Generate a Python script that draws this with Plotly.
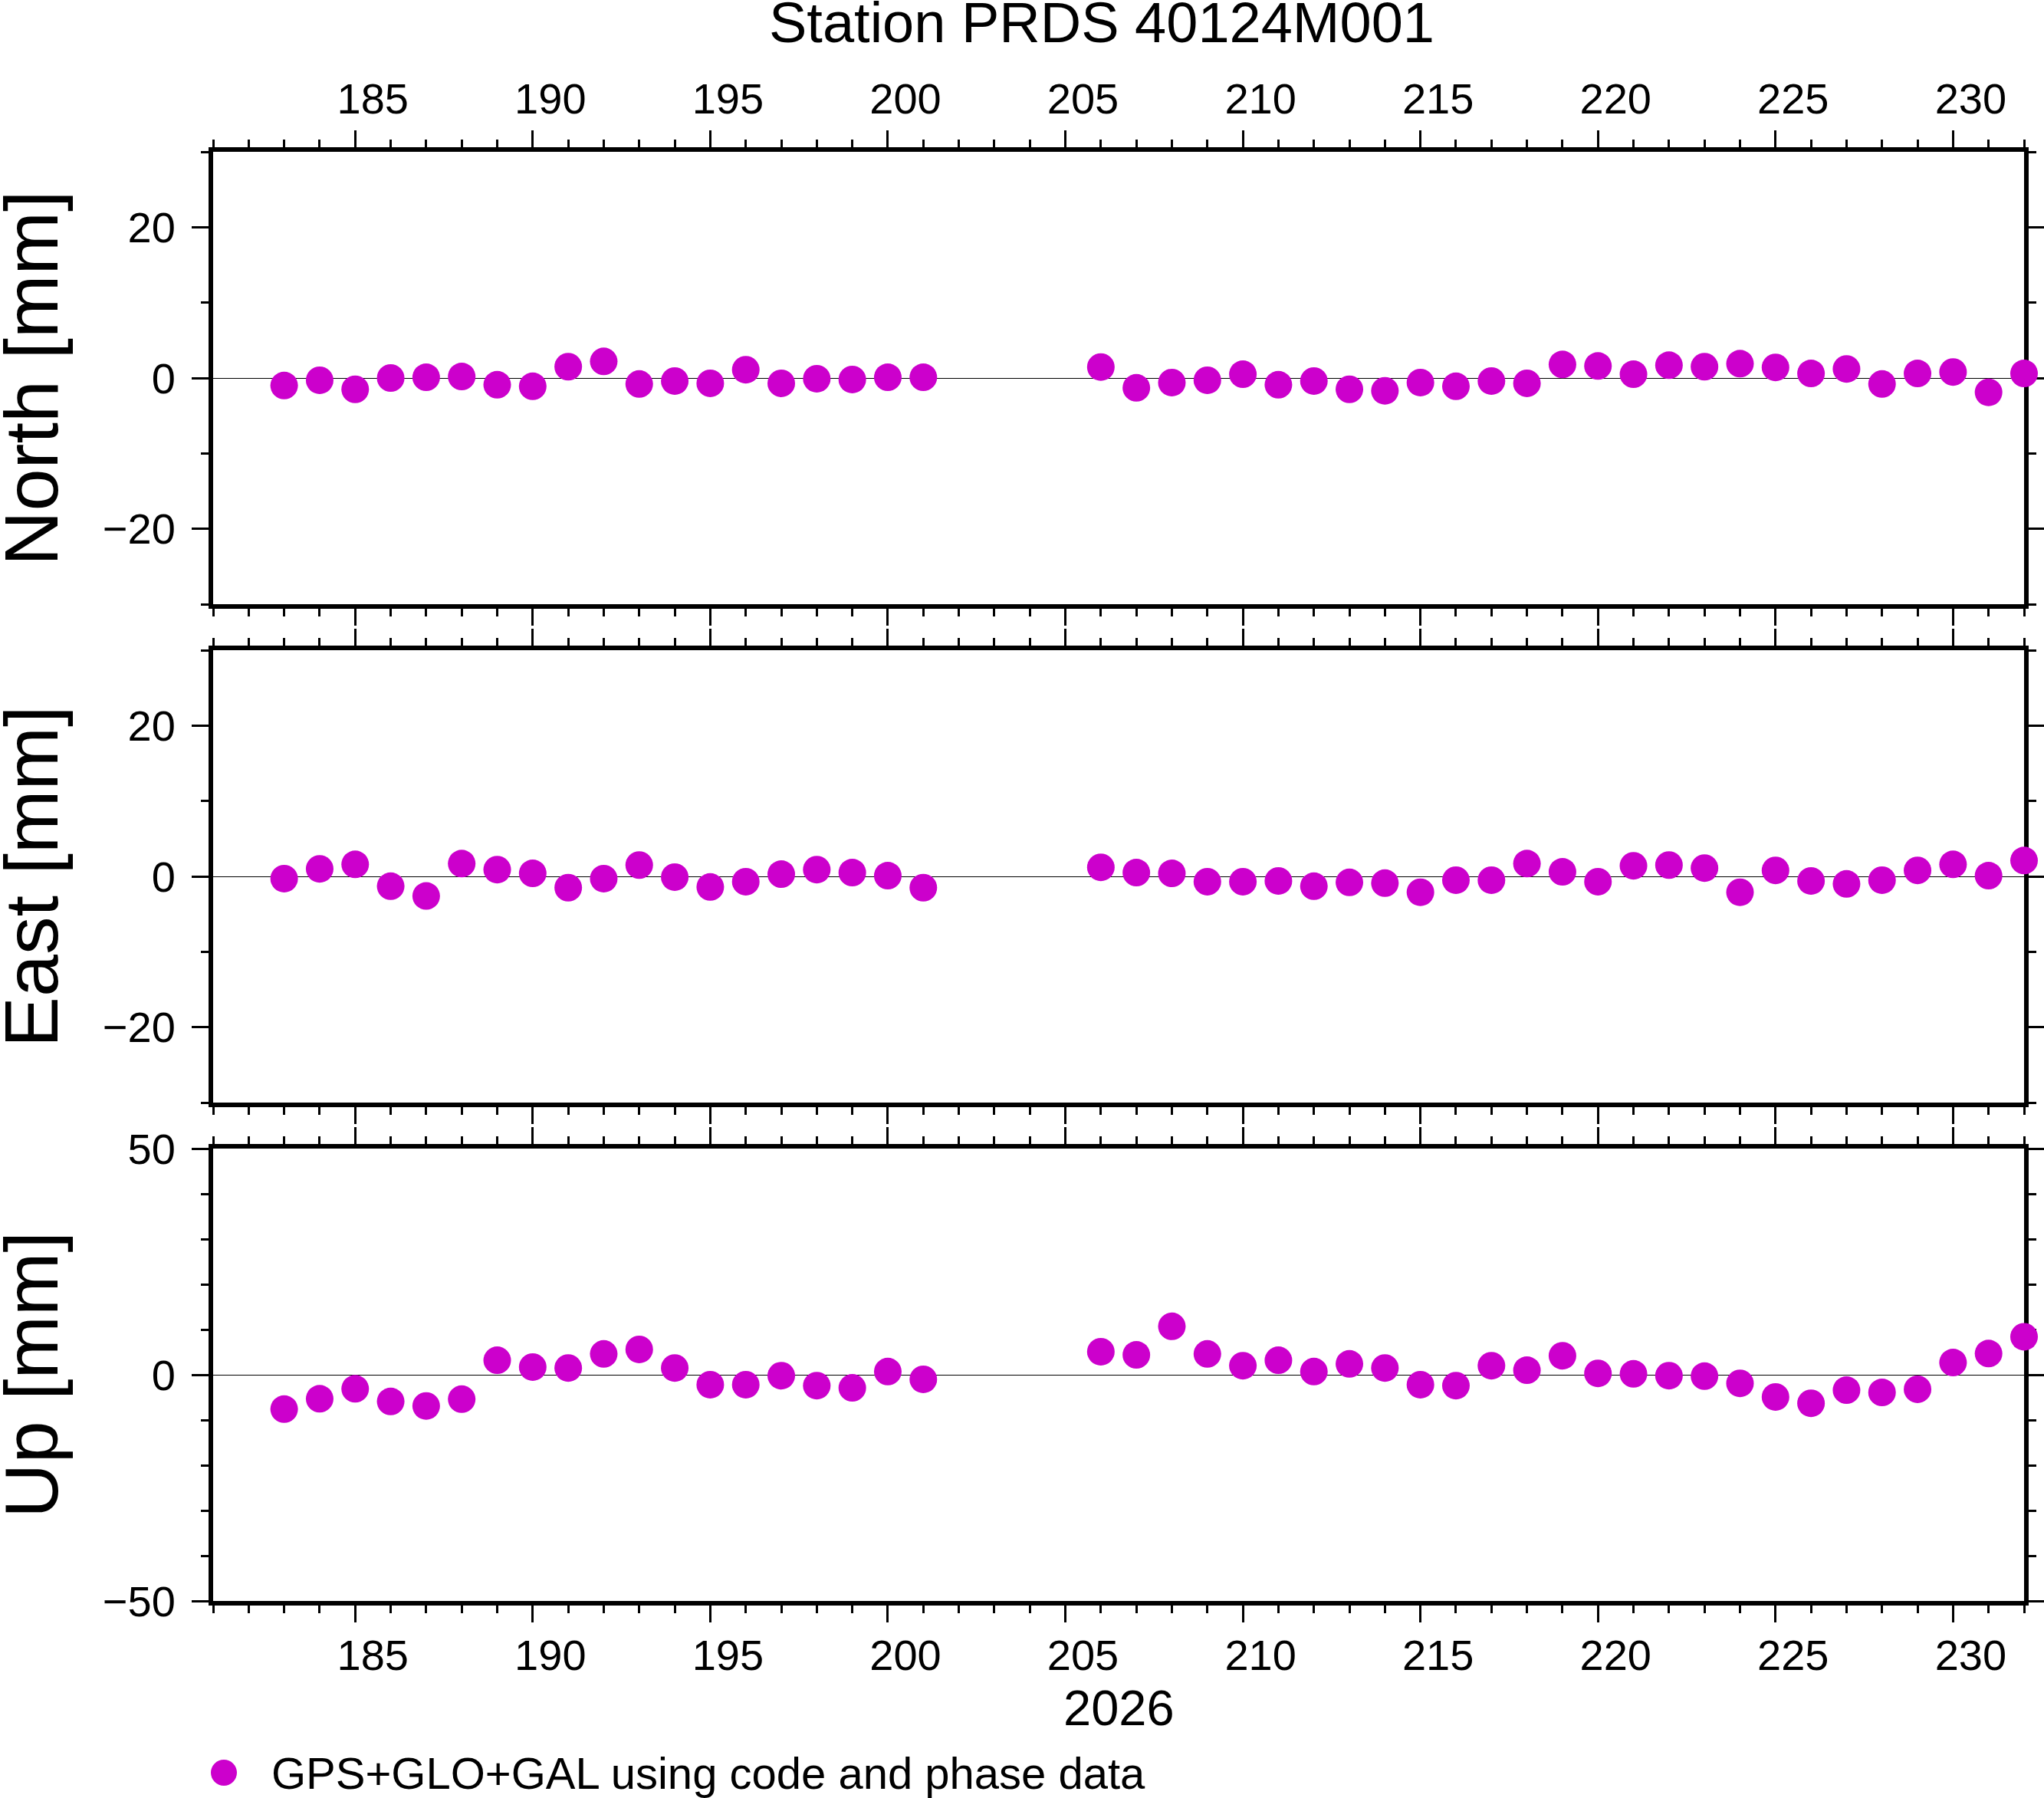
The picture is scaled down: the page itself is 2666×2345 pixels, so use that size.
import plotly.graph_objects as go

# Day of year 2026
days = [183, 184, 185, 186, 187, 188, 189, 190, 191, 192, 193, 194, 195, 196, 197, 198, 199, 200, 201,
        206, 207, 208, 209, 210, 211, 212, 213, 214, 215, 216, 217, 218, 219, 220, 221, 222, 223, 224,
        225, 226, 227, 228, 229, 230, 231, 232]

# Residuals in mm
north = [-1.0, -0.3, -1.5, 0.0, 0.1, 0.2, -0.9, -1.1, 1.5, 2.2, -0.8, -0.4, -0.7, 1.1, -0.7, -0.1, -0.2, 0.1, 0.1,
         1.45, -1.3, -0.6, -0.3, 0.5, -0.9, -0.4, -1.5, -1.7, -0.6, -1.1, -0.4, -0.7, 1.8, 1.6, 0.5, 1.7, 1.5, 1.9,
         1.4, 0.6, 1.2, -0.8, 0.6, 0.8, -1.9, 0.6]
east = [-0.3, 1.0, 1.6, -1.3, -2.6, 1.7, 0.9, 0.4, -1.5, -0.3, 1.5, -0.1, -1.4, -0.7, 0.3, 0.9, 0.5, 0.1, -1.5,
        1.2, 0.5, 0.4, -0.7, -0.7, -0.6, -1.3, -0.8, -0.9, -2.1, -0.5, -0.5, 1.7, 0.6, -0.7, 1.4, 1.5, 1.1, -2.1,
        0.8, -0.6, -1.0, -0.5, 0.8, 1.6, 0.1, 2.1]
up = [-7.6, -5.3, -3.1, -5.9, -6.9, -5.4, 3.2, 1.7, 1.5, 4.6, 5.6, 1.5, -2.2, -2.2, -0.2, -2.4, -2.9, 0.7, -1.0,
      5.1, 4.4, 10.7, 4.6, 2.0, 3.2, 0.7, 2.4, 1.5, -2.2, -2.4, 2.0, 1.0, 4.2, 0.3, 0.2, -0.2, -0.3, -1.9,
      -4.9, -6.3, -3.4, -3.9, -3.2, 2.7, 4.7, 8.4]

components = ["North [mm]", "East [mm]", "Up [mm]"]
y_ranges = [[-30, 30], [-30, 30], [-50, 50]]
y_dticks = [20, 20, 50]
x_range = [181, 232]
year_label = "2026"
title = "Station PRDS 40124M001"
legend_text = "GPS+GLO+GAL using code and phase data"

W, H = 2666, 2345
FONT = "Liberation Sans"
MAGENTA = "#CC00CC"

# panel placement in pixels (top, bottom)
x_left, x_right = 278, 2640
panels = [(198, 788), (848, 1438), (1498, 2088)]
x_standoff = [0, 0, -5]


def px_x(p):
    return p / W


def px_y(p):
    return 1 - p / H


fig = go.Figure()

for i, vals in enumerate([north, east, up]):
    n = "" if i == 0 else str(i + 1)
    fig.add_trace(go.Scatter(
        x=days, y=vals, mode="markers",
        marker=dict(size=36, color=MAGENTA),
        xaxis="x" + n, yaxis="y" + n,
        cliponaxis=False, showlegend=False, hoverinfo="x+y"
    ))

# GMT-like frame: thick lines, ticks on all four sides
frame = dict(showline=True, linewidth=6, linecolor="black", mirror="allticks",
             ticks="outside", ticklen=22, tickwidth=3, tickcolor="black",
             showgrid=False, layer="below traces", fixedrange=True, automargin=False,
             tickfont=dict(family=FONT, size=56, color="black"))

layout = {}
for i, (top, bottom) in enumerate(panels):
    n = "" if i == 0 else str(i + 1)
    side = "top" if i == 0 else "bottom"
    layout["xaxis" + n] = dict(
        frame, domain=[px_x(x_left), px_x(x_right)], range=x_range, anchor="y" + n, side=side,
        tick0=180, dtick=5, showticklabels=(i != 1), ticklabelshift=23,
        ticklabelstandoff=x_standoff[i],
        minor=dict(tick0=180, dtick=1, ticks="outside", ticklen=10, tickwidth=3, tickcolor="black"),
        zeroline=False,
    )
    layout["yaxis" + n] = dict(
        frame, domain=[px_y(bottom), px_y(top)], range=y_ranges[i], anchor="x" + n,
        tick0=0, dtick=y_dticks[i], ticklabelstandoff=10,
        minor=dict(tick0=0, dtick=10, ticks="outside", ticklen=10, tickwidth=3, tickcolor="black"),
        zeroline=True, zerolinecolor="black", zerolinewidth=1.2,
    )

annotations = []
for i, (top, bottom) in enumerate(panels):
    annotations.append(dict(
        x=px_x(40), y=px_y((top + bottom) / 2), xref="paper", yref="paper",
        text=components[i], textangle=-90, showarrow=False,
        xanchor="center", yanchor="middle",
        font=dict(family=FONT, size=99, color="black"),
    ))

annotations.append(dict(
    x=px_x(1459), y=px_y(2227), xref="paper", yref="paper", text=year_label,
    showarrow=False, xanchor="center", yanchor="middle",
    font=dict(family=FONT, size=65, color="black"),
))
annotations.append(dict(
    x=px_x(352), y=px_y(2312), xref="paper", yref="paper", text=legend_text,
    showarrow=False, xanchor="left", yanchor="middle",
    font=dict(family=FONT, size=58, color="black"),
))

# legend symbol
shapes = [dict(
    type="circle", xref="paper", yref="paper",
    x0=px_x(292 - 17), x1=px_x(292 + 17), y0=px_y(2312 + 17), y1=px_y(2312 - 17),
    fillcolor=MAGENTA, line=dict(width=0),
)]

fig.update_layout(
    **layout,
    template="none",
    width=W, height=H,
    margin=dict(l=0, r=0, t=0, b=0, pad=0),
    paper_bgcolor="white", plot_bgcolor="white",
    title=dict(text=title, x=px_x(1437), xanchor="center", y=px_y(29), yanchor="middle",
               font=dict(family=FONT, size=74, color="black")),
    annotations=annotations,
    shapes=shapes,
    showlegend=False,
)

fig.write_html("out.html", config={"displayModeBar": False},
               post_script="document.body.style.margin='0';")
